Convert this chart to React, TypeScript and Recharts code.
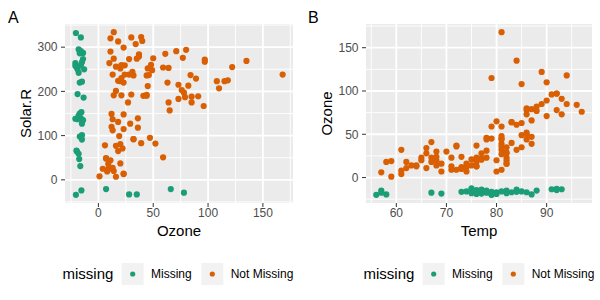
import React from 'react';
import { ScatterChart, Scatter, XAxis, YAxis, CartesianGrid } from 'recharts';

const FONT = '"Liberation Sans", Arial, Helvetica, sans-serif';
const GREEN = '#1B9E77';
const ORANGE = '#D95F02';

// airquality: Ozone, Solar.R, Temp (null = NA)
const ozone: (number | null)[] = [
  41, 36, 12, 18, null, 28, 23, 19, 8, null,
  7, 16, 11, 14, 18, 14, 34, 6, 30, 11,
  1, 11, 4, 32, null, null, null, 23, 45, 115,
  37, null, null, null, null, null, null, 29, null, 71,
  39, null, null, 23, null, null, 21, 37, 20, 12,
  13, null, null, null, null, null, null, null, null, null,
  null, 135, 49, 32, null, 64, 40, 77, 97, 97,
  85, null, 10, 27, null, 7, 48, 35, 61, 79,
  63, 16, null, null, 80, 108, 20, 52, 82, 50,
  64, 59, 39, 9, 16, 78, 35, 66, 122, 89,
  110, null, null, 44, 28, 65, null, 22, 59, 23,
  31, 44, 21, 9, null, 45, 168, 73, null, 76,
  118, 84, 85, 96, 78, 73, 91, 47, 32, 20,
  23, 21, 24, 44, 21, 28, 9, 13, 46, 18,
  13, 24, 16, 13, 23, 36, 7, 14, 30, null,
  14, 18, 20,
];

const solarR: (number | null)[] = [
  190, 118, 149, 313, null, null, 299, 99, 19, 194,
  null, 256, 290, 274, 65, 334, 307, 78, 322, 44,
  8, 320, 25, 92, 66, 266, null, 13, 252, 223,
  279, 286, 287, 242, 186, 220, 264, 127, 273, 291,
  323, 259, 250, 148, 332, 322, 191, 284, 37, 120,
  137, 150, 59, 91, 250, 135, 127, 47, 98, 31,
  138, 269, 248, 236, 101, 175, 314, 276, 267, 272,
  175, 139, 264, 175, 291, 48, 260, 274, 285, 187,
  220, 7, 258, 295, 294, 223, 81, 82, 213, 275,
  253, 254, 83, 24, 77, null, null, null, 255, 229,
  207, 222, 137, 192, 273, 157, 64, 71, 51, 115,
  244, 190, 259, 36, 255, 212, 238, 215, 153, 203,
  225, 237, 188, 167, 197, 183, 189, 95, 92, 252,
  220, 230, 259, 236, 259, 238, 24, 112, 237, 224,
  27, 238, 201, 238, 14, 139, 49, 20, 193, 145,
  191, 131, 223,
];

const temp: number[] = [
  67, 72, 74, 62, 56, 66, 65, 59, 61, 69,
  74, 69, 66, 68, 58, 64, 66, 57, 68, 62,
  59, 73, 61, 61, 57, 58, 57, 67, 81, 79,
  76, 78, 74, 67, 84, 85, 79, 82, 87, 90,
  87, 93, 92, 82, 80, 79, 77, 72, 65, 73,
  76, 77, 76, 76, 76, 75, 78, 73, 80, 77,
  83, 84, 85, 81, 84, 83, 83, 88, 92, 92,
  89, 82, 73, 81, 91, 80, 81, 82, 84, 87,
  85, 74, 81, 82, 86, 85, 82, 86, 88, 86,
  83, 81, 81, 81, 82, 86, 85, 87, 89, 90,
  90, 92, 86, 86, 82, 80, 79, 77, 79, 76,
  78, 78, 77, 72, 75, 79, 81, 86, 88, 97,
  94, 96, 94, 91, 92, 93, 93, 87, 84, 80,
  78, 75, 73, 81, 76, 77, 71, 71, 78, 67,
  76, 68, 82, 64, 71, 81, 69, 63, 70, 77,
  75, 76, 68,
];

// positions of the NA values, shifted below the range
const ozoneShadowA = [
  -20.5, -19, -20, -15, -15.5, -17, -14, -18, -13.5, -17,
  -21, -14, -16, -13, -20.5, -16, -17, -18, -15, -19,
  -14, -15, -17.5, -17, -16.5, -21, -15, -16, -16, -21,
  -18, -15, -19, -19.5, -20, -15.5, -18,
];
const solarShadowA = [-34, -33, -21, -24, -29, -33, -21];
const ozoneShadowB = [
  -20, -18.5, -15, -19.5, -17.5, -15, -16, -17.5, -14, -16,
  -19.5, -19.5, -13.5, -14.5, -17, -16.5, -16, -14.5, -17, -19,
  -12.5, -17.5, -16.5, -19, -14, -17, -16.5, -18, -13.5, -16,
  -15, -13, -17, -20, -18, -15, -18.5,
];

type Pt = { x: number; y: number; missing: boolean };

let ka = 0;
let ks = 0;
const panelA: Pt[] = ozone.map((oz, i) => {
  const sr = solarR[i];
  return {
    x: oz ?? ozoneShadowA[ka++],
    y: sr ?? solarShadowA[ks++],
    missing: oz === null || sr === null,
  };
});

let kb = 0;
const panelB: Pt[] = ozone.map((oz, i) => ({
  x: temp[i],
  y: oz ?? ozoneShadowB[kb++],
  missing: oz === null,
}));

interface PanelProps {
  data: Pt[];
  xDomain: [number, number];
  yDomain: [number, number];
  xTicks: number[];
  yTicks: number[];
  xMinor: number[];
  yMinor: number[];
  yAxisWidth: number;
  right: number;
}

const dot = (color: string) => (p: any) => (
  <circle cx={p.cx} cy={p.cy} r={3.1} fill={color} />
);

function Panel({ data, xDomain, yDomain, xTicks, yTicks, xMinor, yMinor, yAxisWidth, right }: PanelProps) {
  const tick = { fill: '#4D4D4D', fontSize: 12, fontFamily: FONT };
  return (
    <ScatterChart width={300} height={300} margin={{ top: 24, right, bottom: 67, left: 0 }}>
      <CartesianGrid
        fill="#EBEBEB"
        stroke="#FFFFFF"
        strokeWidth={0.9}
        verticalValues={xMinor}
        horizontalValues={yMinor}
      />
      <CartesianGrid
        stroke="#FFFFFF"
        strokeWidth={1.8}
        verticalValues={xTicks}
        horizontalValues={yTicks}
      />
      <XAxis
        type="number"
        dataKey="x"
        domain={xDomain}
        ticks={xTicks}
        interval={0}
        allowDataOverflow
        height={30}
        axisLine={false}
        tickLine={{ stroke: '#333333' }}
        tickSize={4}
        tickMargin={1}
        tick={tick}
      />
      <YAxis
        type="number"
        dataKey="y"
        domain={yDomain}
        ticks={yTicks}
        interval={0}
        allowDataOverflow
        width={yAxisWidth}
        axisLine={false}
        tickLine={{ stroke: '#333333' }}
        tickSize={4}
        tickMargin={3.5}
        tick={tick}
      />
      <Scatter
        name="Missing"
        data={data.filter((d) => d.missing)}
        shape={dot(GREEN)}
        isAnimationActive={false}
      />
      <Scatter
        name="Not Missing"
        data={data.filter((d) => !d.missing)}
        shape={dot(ORANGE)}
        isAnimationActive={false}
      />
    </ScatterChart>
  );
}

function MissingLegend({ left }: { left: number }) {
  return (
    <g transform={`translate(${left},0)`} fontFamily={FONT}>
      <text x={62.5} y={278.5} fontSize={15} fill="#000">missing</text>
      <rect x={121.7} y={263} width={22} height={22} fill="#F2F2F2" />
      <circle cx={132.7} cy={274} r={2.6} fill={GREEN} />
      <text x={151} y={277.5} fontSize={12} fill="#000">Missing</text>
      <rect x={201.3} y={263} width={22} height={22} fill="#F2F2F2" />
      <circle cx={212.3} cy={274} r={2.6} fill={ORANGE} />
      <text x={230.7} y={277.5} fontSize={12} fill="#000">Not Missing</text>
    </g>
  );
}

export default function App() {
  return (
    <div style={{ position: 'fixed', left: 0, top: 0, width: 600, height: 300, background: '#fff' }}>
      <div style={{ position: 'absolute', left: 0, top: 0 }}>
        <Panel
          data={panelA}
          xDomain={[-30.45, 177.45]}
          yDomain={[-52.4, 352.4]}
          xTicks={[0, 50, 100, 150]}
          yTicks={[0, 100, 200, 300]}
          xMinor={[-25, 25, 75, 125, 175]}
          yMinor={[-50, 50, 150, 250, 350]}
          yAxisWidth={65}
          right={7}
        />
      </div>
      <div style={{ position: 'absolute', left: 300, top: 0 }}>
        <Panel
          data={panelB}
          xDomain={[53.95, 99.05]}
          yDomain={[-29.4, 177.4]}
          xTicks={[60, 70, 80, 90]}
          yTicks={[0, 50, 100, 150]}
          xMinor={[55, 65, 75, 85, 95]}
          yMinor={[-25, 25, 75, 125, 175]}
          yAxisWidth={66}
          right={8}
        />
      </div>
      <svg width={600} height={300} style={{ position: 'absolute', left: 0, top: 0, pointerEvents: 'none' }}>
        <g fontFamily={FONT} fill="#000">
          <text x={8} y={22.5} fontSize={16}>A</text>
          <text x={308} y={22.5} fontSize={16}>B</text>
          <text x={179} y={235.5} fontSize={15} textAnchor="middle">Ozone</text>
          <text x={479} y={235.5} fontSize={15} textAnchor="middle">Temp</text>
          <text transform="translate(31,113.5) rotate(-90)" fontSize={15} textAnchor="middle">Solar.R</text>
          <text transform="translate(331.5,113.5) rotate(-90)" fontSize={15} textAnchor="middle">Ozone</text>
        </g>
        <MissingLegend left={0} />
        <MissingLegend left={301} />
      </svg>
    </div>
  );
}
